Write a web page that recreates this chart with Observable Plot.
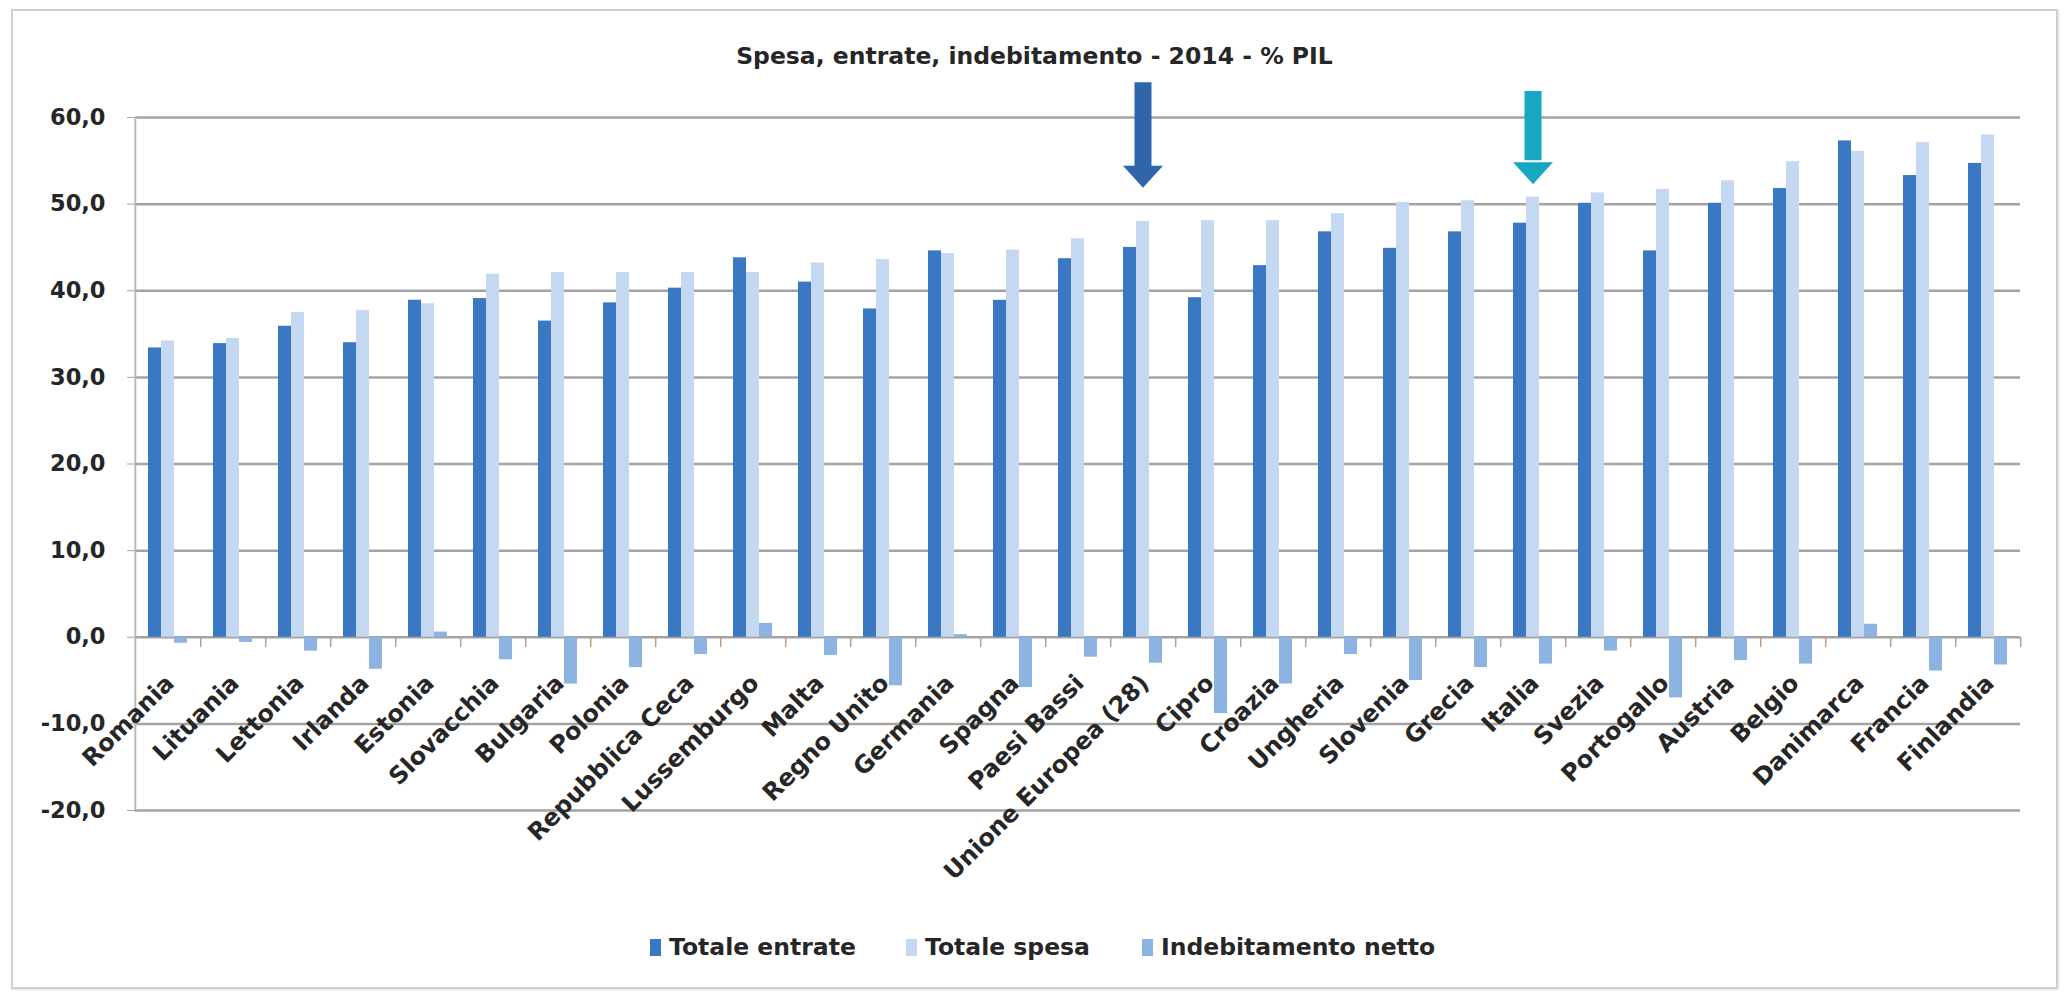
<!DOCTYPE html>
<html>
<head>
<meta charset="utf-8">
<script src="https://cdn.jsdelivr.net/npm/d3@7"></script>
<script src="https://cdn.jsdelivr.net/npm/@observablehq/plot@0.6"></script>
<style>
  html, body { margin: 0; padding: 0; background: #fff; }
  body { position: relative; width: 2069px; height: 996px; overflow: hidden; font-family: "DejaVu Sans", sans-serif; }
  #frame { position: absolute; left: 11px; top: 9px; width: 2043px; height: 976px; border: 2px solid #cfcfcf; box-shadow: 1px 1px 2px #e2e2e2; }
  #chart { position: absolute; left: 0; top: 0; }
  #title { position: absolute; left: 0; top: 44px; width: 2069px; text-align: center; font-weight: bold; font-size: 23.5px; line-height: 24px; color: #262626; white-space: nowrap; }
  .leg { position: absolute; top: 935px; display: flex; align-items: center; font-weight: bold; font-size: 23.5px; line-height: 24px; color: #262626; white-space: nowrap; }
  .sw { width: 11px; height: 17px; margin-right: 8px; }
</style>
</head>
<body>
<div id="frame"></div>
<div id="chart"></div>
<div id="title"></div>
<div id="legend"></div>
<script>
// ---------- data ----------
const title = "Spesa, entrate, indebitamento - 2014 - % PIL";
const countries = ["Romania", "Lituania", "Lettonia", "Irlanda", "Estonia", "Slovacchia", "Bulgaria", "Polonia",
  "Repubblica Ceca", "Lussemburgo", "Malta", "Regno Unito", "Germania", "Spagna", "Paesi Bassi",
  "Unione Europea (28)", "Cipro", "Croazia", "Ungheria", "Slovenia", "Grecia", "Italia", "Svezia",
  "Portogallo", "Austria", "Belgio", "Danimarca", "Francia", "Finlandia"];
const series = ["Totale entrate", "Totale spesa", "Indebitamento netto"];
const entrate = [33.4, 33.9, 35.9, 34.0, 38.9, 39.1, 36.5, 38.6, 40.3, 43.8, 41.0, 37.9, 44.6, 38.9, 43.7,
  45.0, 39.2, 42.9, 46.8, 44.9, 46.8, 47.8, 50.1, 44.6, 50.1, 51.8, 57.3, 53.3, 54.7];
const spesa = [34.2, 34.5, 37.5, 37.7, 38.5, 41.9, 42.1, 42.1, 42.1, 42.1, 43.2, 43.6, 44.3, 44.7, 46.0,
  48.0, 48.1, 48.1, 48.9, 50.2, 50.4, 50.8, 51.3, 51.7, 52.7, 54.9, 56.1, 57.1, 58.0];
const netto = [-0.7, -0.6, -1.6, -3.7, 0.6, -2.6, -5.4, -3.5, -2.0, 1.6, -2.1, -5.6, 0.3, -5.8, -2.3,
  -3.0, -8.8, -5.4, -2.0, -5.0, -3.5, -3.1, -1.6, -7.0, -2.7, -3.1, 1.5, -3.9, -3.2];
const yTicks = [-20, -10, 0, 10, 20, 30, 40, 50, 60];
// highlight arrows (values in % PIL units)
const arrowCountries = ["Unione Europea (28)", "Italia"];
const arrowTop = [64.0, 63.0];
const arrowNeck = [54.3, 55.0];
const arrowTip = [51.9, 52.3];

// ---------- style / layout ----------
const colors = ["#3b78c3", "#c5d8f1", "#8db3e2"];
const arrowColors = ["#2f65ab", "#19a6c2"];
const W = 2069, H = 996;
const mL = 125, mR = 39, mT = 117, mB = 186;
const po = 1.0;
const step = (W - mL - mR) / countries.length;
const bw = step / (series.length + 2 * po);
const edge = bw / 2 + po * bw;
const legendLeft = [650, 906, 1142];
const textColor = "#262626";
const gridColor = "#a3a3a3";

const rows = countries.flatMap((c, i) => [
  {country: c, serie: series[0], value: entrate[i]},
  {country: c, serie: series[1], value: spesa[i]},
  {country: c, serie: series[2], value: netto[i]}
]);

const headSymbol = {
  draw(context) {
    context.moveTo(-20, -22);
    context.lineTo(20, -22);
    context.lineTo(0, 0);
    context.closePath();
  }
};

const arrowMarks = arrowCountries.flatMap((c, i) => [
  Plot.ruleX([i], {fx: () => c, x: () => series[1], y1: () => arrowTop[i], y2: () => arrowNeck[i],
    stroke: arrowColors[i], strokeWidth: 17}),
  Plot.dot([i], {fx: () => c, x: () => series[1], y: () => arrowTip[i], symbol: headSymbol, r: 10,
    fill: arrowColors[i], stroke: "none"})
]);

const chart = Plot.plot({
  width: W,
  height: H,
  marginLeft: mL,
  marginRight: mR,
  marginTop: mT,
  marginBottom: mB,
  style: {fontFamily: "DejaVu Sans", fontWeight: "bold", color: textColor, background: "transparent", overflow: "visible"},
  fx: {domain: countries, padding: 0, axis: null},
  x: {domain: series, paddingInner: 0, paddingOuter: po, axis: null},
  y: {domain: [-20, 60]},
  color: {domain: series, range: colors},
  marks: [
    Plot.ruleY(yTicks, {stroke: gridColor, strokeWidth: 2.5}),
    Plot.axisY(yTicks, {tickSize: 8, tickPadding: 22, stroke: gridColor, fill: textColor, fontSize: 22.5,
      fontWeight: "bold", tickFormat: d => d.toFixed(1).replace(".", ","), label: null}),
    Plot.ruleX([countries[0]], {fx: d => d, x: () => series[0], y1: -20, y2: 60, dx: -edge,
      stroke: "#b8b8b8", strokeWidth: 2}),
    Plot.barY(rows, {fx: "country", x: "serie", y: "value", fill: "serie"}),
    Plot.ruleX(countries, {fx: d => d, x: () => series[2], y1: 0, y2: -1.2, dx: edge,
      stroke: "#c49a7c", strokeWidth: 1.5}),
    Plot.text(countries, {fx: d => d, y: 0, text: d => d, rotate: -45, textAnchor: "end",
      dx: 2, dy: 42, fontSize: 24, fontWeight: "bold", fill: textColor}),
    ...arrowMarks
  ]
});
document.getElementById("chart").appendChild(chart);

document.getElementById("title").textContent = title;

const legend = document.getElementById("legend");
series.forEach((s, i) => {
  const item = document.createElement("div");
  item.className = "leg";
  item.style.left = legendLeft[i] + "px";
  const sw = document.createElement("span");
  sw.className = "sw";
  sw.style.background = colors[i];
  const label = document.createElement("span");
  label.textContent = s;
  item.appendChild(sw);
  item.appendChild(label);
  legend.appendChild(item);
});
</script>
</body>
</html>
